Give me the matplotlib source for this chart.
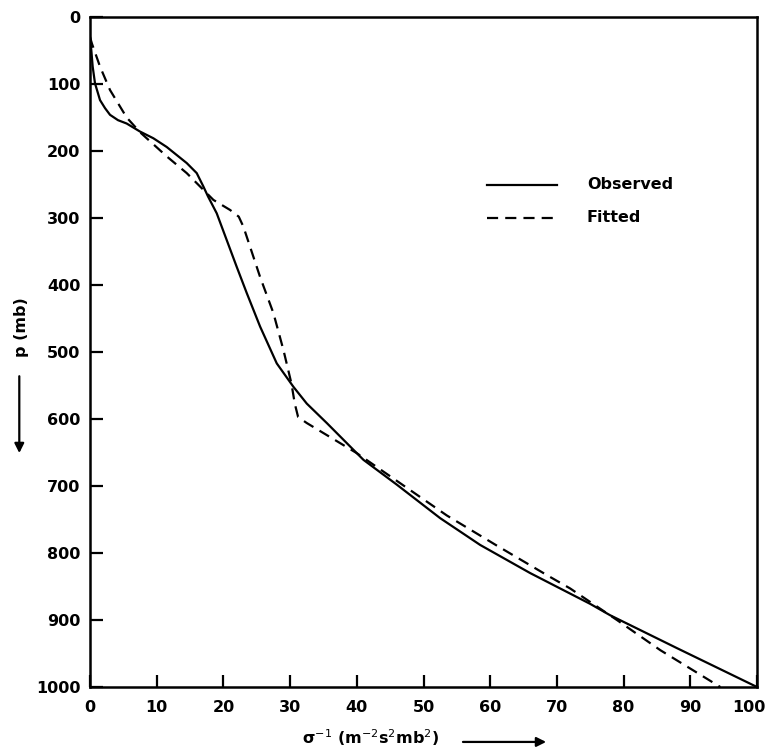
import matplotlib
matplotlib.use("Agg")
import matplotlib.pyplot as plt
from matplotlib.transforms import ScaledTranslation

# sigma^-1 (x) vs pressure p in mb (y)
obs_x = [0.0, 0.2, 0.4, 0.75, 1.5, 2.25, 3.0, 4.2, 5.5, 7.5, 9.5, 11.5, 14.5, 16.0, 17.0,
         17.7, 19.0, 20.5, 22.0, 23.5, 25.5, 28.0, 30.5, 32.5, 35.5, 41.0, 46.0, 52.5,
         58.5, 66.0, 75.0, 78.0, 88.0, 100.0]
obs_p = [30, 50, 74, 99, 124, 136, 146, 154, 159, 171, 181, 194, 218, 233, 253,
         268, 293, 333, 373, 412, 462, 517, 552, 577, 606, 661, 698, 748,
         788, 830, 876, 893, 942, 1000]

fit_x = [0.0, 0.3, 1.5, 3.0, 5.5, 7.5, 11.5, 14.5, 17.0, 18.5, 21.0, 22.3, 23.0, 23.5,
         25.5, 27.5, 29.0, 30.2, 30.7, 31.2, 32.5, 35.0, 40.0, 53.5, 61.0, 68.5, 72.0,
         79.0, 85.5, 94.5]
fit_p = [30, 40, 74, 109, 150, 172, 208, 233, 258, 273, 288, 298, 313, 328,
         388, 442, 497, 547, 577, 597, 606, 621, 651, 744, 789, 833, 853,
         900, 945, 1000]

xticks = list(range(0, 101, 10))
yticks = list(range(0, 1001, 100))

FONT = dict(family="DejaVu Sans", fontsize=11.5, fontweight="bold")

fig = plt.figure(figsize=(7.69, 7.47), dpi=100)
ax = fig.add_axes([90 / 769, 1 - 687 / 747, 667 / 769, 670 / 747])

ax.plot(obs_x, obs_p, color="black", lw=1.6, solid_joinstyle="round")
ax.plot(fit_x, fit_p, color="black", lw=1.6, dashes=(5, 3.2))

ax.set_xlim(0, 100)
ax.set_ylim(1000, 0)
ax.set_xticks(xticks)
ax.set_yticks(yticks)
ax.set_xticklabels([str(t) for t in xticks], **FONT)
ax.set_yticklabels([str(t) for t in yticks], **FONT)
ax.tick_params(direction="in", length=9, width=1.6, pad=7, color="black")
ax.tick_params(axis="x", pad=9)
# keep the last x label inside the figure
last = ax.get_xticklabels()[-1]
last.set_transform(last.get_transform() + ScaledTranslation(-6 / 72, 0, fig.dpi_scale_trans))
for s in ax.spines.values():
    s.set_linewidth(1.8)

# legend drawn as in the original figure
ax.plot([59.5, 70], [250, 250], color="black", lw=1.6)
ax.plot([59.5, 70], [300, 300], color="black", lw=1.6, dashes=(5, 3.2))
ax.text(74.5, 250, "Observed", va="center", ha="left", **FONT)
ax.text(74.5, 300, "Fitted", va="center", ha="left", **FONT)

# axis labels with arrows
ax.text(-0.102, 0.537, "p (mb)", rotation=90, transform=ax.transAxes,
        ha="center", va="center", **FONT)
ax.annotate("", xy=(-0.106, 0.345), xytext=(-0.106, 0.468), xycoords="axes fraction",
            arrowprops=dict(arrowstyle="-|>", color="black", lw=1.6, mutation_scale=14))
ax.text(0.421, -0.076, "σ$^{-1}$ (m$^{-2}$s$^{2}$mb$^{2}$)", transform=ax.transAxes,
        ha="center", va="center", **FONT)
ax.annotate("", xy=(0.688, -0.082), xytext=(0.555, -0.082), xycoords="axes fraction",
            arrowprops=dict(arrowstyle="-|>", color="black", lw=1.6, mutation_scale=14))

fig.savefig("out.png", dpi=100)
